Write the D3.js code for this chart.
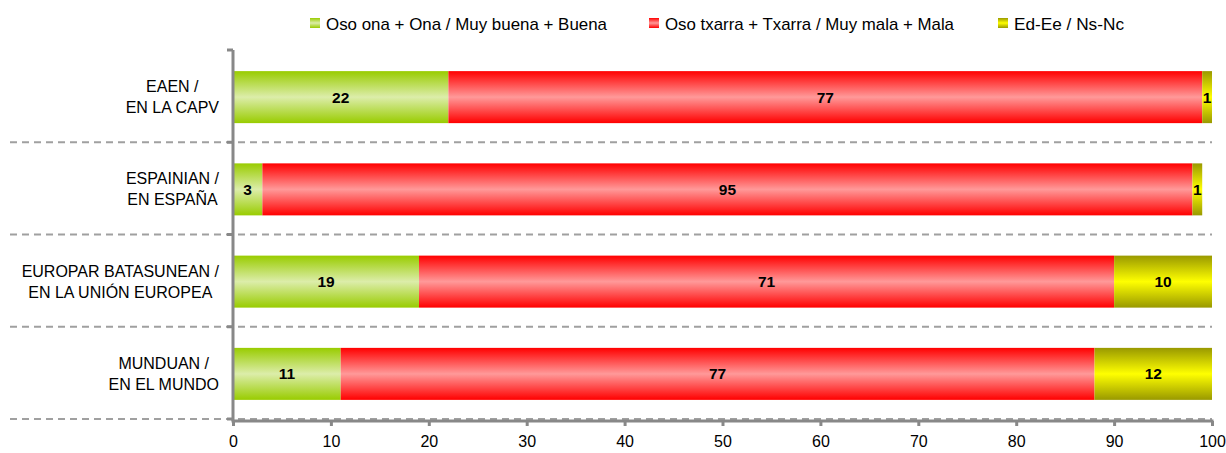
<!DOCTYPE html>
<html><head><meta charset="utf-8">
<script src="https://cdn.jsdelivr.net/npm/d3@7"></script>
<style>body{margin:0;background:#fff}svg{display:block;font-family:"Liberation Sans",Arial,sans-serif}</style>
</head><body><svg id="c" width="1226" height="453"></svg>
<script>
const categories = [["EAEN /","EN LA CAPV"],["ESPAINIAN /","EN ESPAÑA"],["EUROPAR BATASUNEAN /","EN LA UNIÓN EUROPEA"],["MUNDUAN /","EN EL MUNDO"]];
const seriesNames = ["Oso ona + Ona / Muy buena + Buena","Oso txarra + Txarra / Muy mala + Mala","Ed-Ee / Ns-Nc"];
const good = [22,3,19,11];
const bad = [77,95,71,77];
const nsnc = [1,1,10,12];
const xTicks = [0,10,20,30,40,50,60,70,80,90,100];

const svg = d3.select("#c");
const defs = svg.append("defs");
const grads = [["#99cc00","#dcedaa"],["#ff0000","#ff9999"],["#999900","#ffff00"]];
grads.forEach((g,i)=>{
  const lg = defs.append("linearGradient").attr("id","g"+i).attr("x1",0).attr("y1",0).attr("x2",0).attr("y2",1);
  lg.append("stop").attr("offset","0%").attr("stop-color",g[0]);
  lg.append("stop").attr("offset","50%").attr("stop-color",g[1]);
  lg.append("stop").attr("offset","100%").attr("stop-color",g[0]);
});

const x = d3.scaleLinear().domain([0,100]).range([233,1212]);
const y = d3.scaleBand().domain(d3.range(categories.length)).range([50,419]).paddingInner(0).paddingOuter(0);
const barH = 52;

// dashed separators
const bounds = [y(1), y(2), y(3), 419];
svg.append("g").selectAll("line").data(bounds).join("line")
  .attr("x1",10).attr("x2",1212).attr("y1",d=>d).attr("y2",d=>d)
  .attr("stroke","#a0a0a0").attr("stroke-width",2).attr("stroke-dasharray","7,5");

// bars
const rows = categories.map((c,i)=>{const v=[good[i],bad[i],nsnc[i]];let s=0;return v.map((val,k)=>{const o={i,k,x0:s,x1:s+val,val};s+=val;return o;});}).flat();
const bg = svg.append("g");
bg.selectAll("rect").data(rows).join("rect")
  .attr("x",d=>x(d.x0)).attr("width",d=>x(d.x1)-x(d.x0))
  .attr("y",d=>y(d.i)+y.bandwidth()/2-barH/2+1).attr("height",barH)
  .attr("fill",d=>"url(#g"+d.k+")");
bg.selectAll("text").data(rows).join("text")
  .attr("x",d=>(x(d.x0)+x(d.x1))/2).attr("y",d=>y(d.i)+y.bandwidth()/2+1)
  .attr("text-anchor","middle").attr("dominant-baseline","central")
  .attr("font-size",15.5).attr("font-weight","bold").attr("fill","#000")
  .text(d=>d.val);

// y axis
const ya = svg.append("g");
ya.append("line").attr("x1",233).attr("x2",233).attr("y1",50).attr("y2",421).attr("stroke","#888").attr("stroke-width",3);
ya.selectAll("line.t").data([50,...bounds]).join("line").attr("class","t")
  .attr("x1",227).attr("x2",233).attr("y1",d=>d).attr("y2",d=>d).attr("stroke","#888").attr("stroke-width",3);

// category labels
categories.forEach((lines,i)=>{
  const g = svg.append("g");
  const cy = y(i)+y.bandwidth()/2+1;
  const ts = lines.map((t,j)=>g.append("text").attr("font-size",16).attr("fill","#000")
     .attr("dominant-baseline","central").attr("y",cy+(j-0.5)*21).text(t));
  const ws = ts.map(t=>t.node().getComputedTextLength());
  const mw = d3.max(ws);
  const right = 219;
  ts.forEach((t,j)=>t.attr("x",right-mw/2).attr("text-anchor","middle"));
});

// x axis
const xa = svg.append("g").attr("transform","translate(0,421)")
  .call(d3.axisBottom(x).tickValues(xTicks).tickSize(5).tickPadding(10).tickSizeOuter(0));
xa.select(".domain").attr("stroke","#888").attr("stroke-width",3).attr("d","M231.5,0H1213.5");
xa.selectAll(".tick line").attr("stroke","#888").attr("stroke-width",3);
xa.selectAll(".tick text").attr("font-size",16).attr("fill","#000").attr("font-family","'Liberation Sans',Arial,sans-serif");

// legend
const legX = [310,649,998];
const legW = [281,289,110];
const lg = svg.append("g");
seriesNames.forEach((n,i)=>{
  lg.append("rect").attr("x",legX[i]).attr("y",18).attr("width",10).attr("height",10).attr("fill","url(#g"+i+")");
  lg.append("text").attr("x",legX[i]+16).attr("y",30).attr("font-size",17)
    .attr("textLength",legW[i]).attr("lengthAdjust","spacingAndGlyphs").attr("fill","#000").text(n);
});
</script></body></html>
